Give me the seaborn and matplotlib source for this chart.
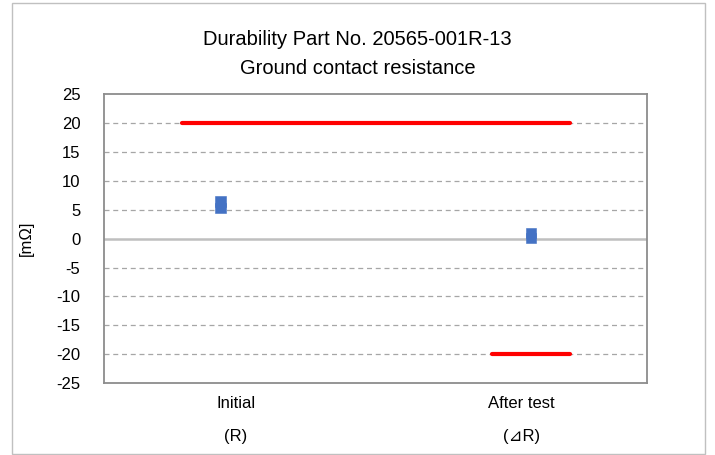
import pandas as pd
import seaborn as sns
import matplotlib.pyplot as plt
from matplotlib.patches import Rectangle

# data
categories = ["Initial", "After test"]
sublabels = ["(R)", "(⊿R)"]
max_vals = [6.4, 1.0]
min_vals = [5.3, 0.1]
upper_limit = 20      # spans both categories
lower_limit = -20     # only for "After test"
y_ticks = list(range(-25, 30, 5))

pos = list(range(len(categories)))
pts = pd.DataFrame({
    "x": pos * 2,
    "val": max_vals + min_vals,
    "kind": ["max"] * len(pos) + ["min"] * len(pos),
})

sns.set_theme(style="white")
plt.rcParams["font.family"] = ["Liberation Sans", "DejaVu Sans"]
plt.rcParams["text.color"] = "black"
plt.rcParams["xtick.color"] = "black"
plt.rcParams["ytick.color"] = "black"
plt.rcParams["axes.labelcolor"] = "black"

fig = plt.figure(figsize=(7.15, 4.55), dpi=100)
ax = fig.add_axes([0.1455, 0.158, 0.7595, 0.635])

# limit lines
half = 0.125
upper = pd.DataFrame({"x": [pos[0] - half, pos[-1] + half], "y": [upper_limit] * 2})
lower = pd.DataFrame({"x": [pos[1] - half, pos[1] + half], "y": [lower_limit] * 2})
sns.lineplot(data=upper, x="x", y="y", color="#FF0000", lw=3, ax=ax, zorder=3)
sns.lineplot(data=lower, x="x", y="y", color="#FF0000", lw=3, ax=ax, zorder=3)

# max / min markers
sns.scatterplot(data=pts, x="x", y="val", style="kind", markers={"max": "s", "min": "s"},
                color="#4472C4", s=58, edgecolor="#4472C4", linewidth=0.4,
                legend=False, ax=ax, zorder=4)

ax.set_xlim(-0.375, 1.374)
ax.set_ylim(-25, 25)
ax.set_yticks(y_ticks)
ax.set_yticklabels([str(t) for t in y_ticks], fontsize=12)
ax.set_xticks([0.05, 0.97])
ax.set_xticklabels([f"{c}\n{s}" for c, s in zip(categories, sublabels)], fontsize=12)
for t in ax.get_xticklabels():
    t.set_linespacing(2.5)
ax.tick_params(axis="x", length=0, pad=9)
ax.tick_params(axis="y", length=0, pad=17)
ax.set_xlabel("")
ax.set_ylabel("[mΩ]", fontsize=12, labelpad=16)

for t in y_ticks:
    if t == 0:
        ax.axhline(0, color="#BFBFBF", lw=1.8, zorder=1)
    elif t not in (-25, 25):
        ax.axhline(t, color="#A6A6A6", lw=0.9, ls=(0, (4, 3)), zorder=1)

for sp in ax.spines.values():
    sp.set_color("#8C8C8C")
    sp.set_linewidth(1.3)

fig.text(0.5, 0.914, "Durability Part No. 20565-001R-13", ha="center", va="center", fontsize=14.5)
fig.text(0.5, 0.849, "Ground contact resistance", ha="center", va="center", fontsize=14.5)

fig.patches.append(Rectangle((12 / 715, 1 / 455), 693 / 715, 451 / 455, transform=fig.transFigure,
                             fill=False, edgecolor="#C0C0C0", lw=1))

fig.savefig("out.png", dpi=100)
